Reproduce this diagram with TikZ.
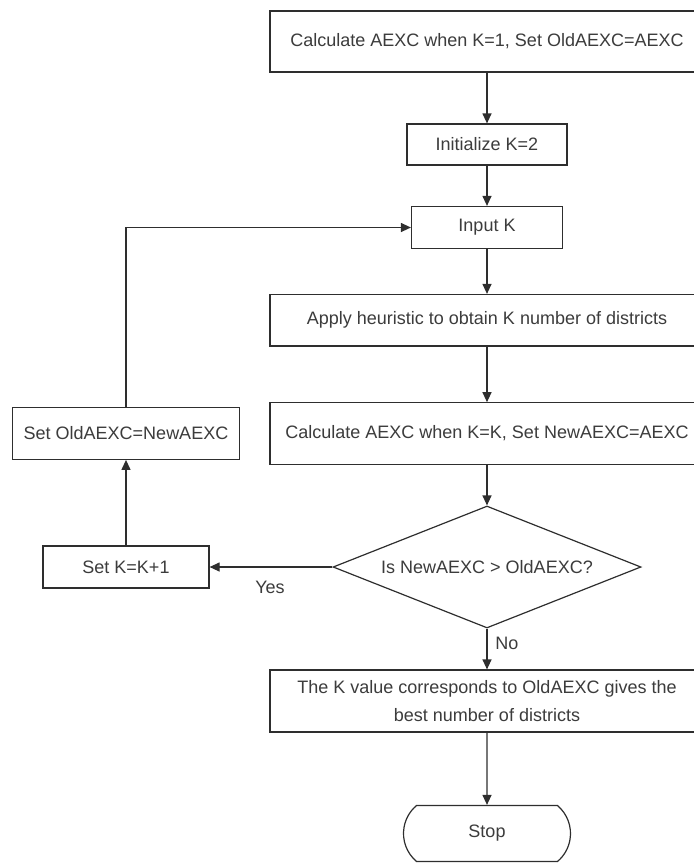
\documentclass[tikz,border=0pt]{standalone}
\usepackage{fontspec}
\setmainfont{Liberation Sans}
\usetikzlibrary{arrows.meta,shapes.geometric,shapes.misc}
\definecolor{lc}{HTML}{2E2E2E}
\definecolor{tc}{HTML}{3C3C3C}
\begin{document}
\begin{tikzpicture}[x=1pt,y=-1pt,
  every node/.style={font=\fontsize{18}{28}\selectfont, text=tc},
  box/.style={draw=lc, line width=1.2pt, fill=white, rectangle, inner sep=0pt, align=center},
  dec/.style={draw=lc, line width=1.2pt, fill=white, diamond, aspect=2.52, inner sep=0pt, minimum width=308pt, minimum height=122pt},
  term/.style={draw=lc, line width=1.2pt, fill=white, rounded rectangle, rounded rectangle arc length=100, inner sep=0pt, minimum width=167pt, minimum height=56pt},
  conn/.style={draw=lc, line width=1.2pt, -{Triangle[length=10pt,width=9pt]}},
  lbl/.style={inner sep=0pt}]
\useasboundingbox (0,0) rectangle (694,863);
\clip (0,0) rectangle (694,863);
\node[box, minimum width=434pt, minimum height=61pt] (b1) at (487,41.5) {Calculate AEXC when K=1, Set OldAEXC=AEXC};
\node[box, minimum width=160pt, minimum height=41pt] (b2) at (487,144.5) {Initialize K=2};
\node[box, minimum width=151pt, minimum height=42pt] (b3) at (487,227.5) {Input K};
\node[box, minimum width=434pt, minimum height=51.5pt] (b4) at (487,320.25) {Apply heuristic to obtain K number of districts};
\node[box, minimum width=434pt, minimum height=61.5pt] (b5) at (487,433.5) {Calculate AEXC when K=K, Set NewAEXC=AEXC};
\node[dec] (d) at (487,567) {Is NewAEXC > OldAEXC?};
\node[box, minimum width=434pt, minimum height=62pt] (b6) at (487,701) {The K value corresponds to OldAEXC gives the\\best number of districts};
\node[term] (stop) at (487,833.5) {Stop};
\node[box, minimum width=227pt, minimum height=52pt] (b7) at (126,433.3) {Set OldAEXC=NewAEXC};
\node[box, minimum width=166pt, minimum height=42pt] (b8) at (126,567) {Set K=K+1};
\draw[conn] (b1) -- (b2);
\draw[conn] (b2) -- (b3);
\draw[conn] (b3) -- (b4);
\draw[conn] (b4) -- (b5);
\draw[conn] (b5) -- (d);
\draw[conn] (d) -- (b6);
\draw[conn] (b6) -- (stop);
\draw[conn] (d.west) -- (b8.east);
\draw[conn] (b8) -- (b7);
\draw[conn] (b7.north) |- (b3.west);
\node[lbl] (yes) at (270,587) {Yes};
\node[lbl] (no) at (507,643) {No};
\end{tikzpicture}
\end{document}
